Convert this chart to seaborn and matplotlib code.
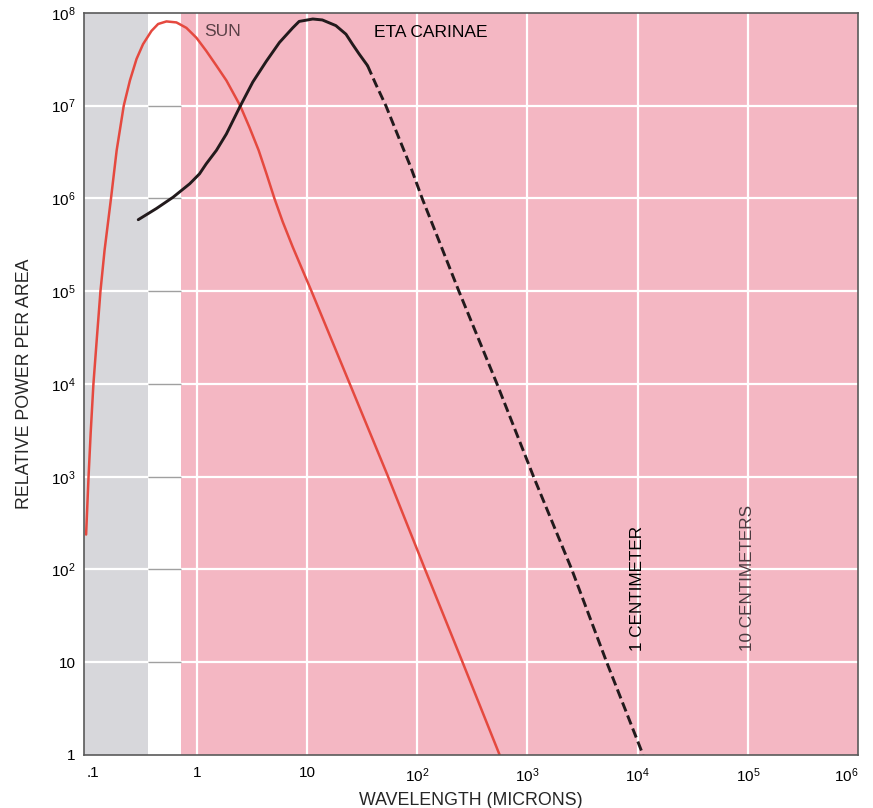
import matplotlib
matplotlib.use("Agg")
import matplotlib.pyplot as plt
import seaborn as sns

# ==============================
# Data (wavelength in microns, relative power per area)
# ==============================
sun_wavelength = [0.0993, 0.1045, 0.1093, 0.1157, 0.124, 0.134, 0.146, 0.167, 0.188,
                  0.218, 0.248, 0.285, 0.326, 0.389, 0.447, 0.532, 0.655, 0.807,
                  0.994, 1.22, 1.51, 1.86, 2.48, 3.01, 3.65, 4.3, 5.07, 6.03, 7.43,
                  11.0, 24.5, 54.5, 118, 258, 560]
sun_power = [238, 1e3, 3e3, 1e4, 3e4, 1e5, 2.76e5, 1e6, 3.3e6,
             1e7, 1.87e7, 3.2e7, 4.6e7, 6.4e7, 7.6e7, 8.1e7, 7.9e7, 6.9e7,
             5.4e7, 3.9e7, 2.7e7, 1.87e7, 1e7, 5.85e6, 3.3e6, 1.84e6, 1e6, 5.6e5, 3.0e5,
             1e5, 1e4, 1e3, 1e2, 10, 1.0]

eta_wavelength = [0.295, 0.432, 0.61, 0.865, 1.06, 1.22, 1.51, 1.86, 2.45, 3.23,
                  4.27, 5.63, 7.43, 8.5, 11.3, 13.8, 18.3, 22.6, 25.9, 29.8, 35.5]
eta_power = [5.9e5, 7.8e5, 1.03e6, 1.44e6, 1.84e6, 2.36e6, 3.3e6, 4.96e6, 9.6e6, 1.8e7,
             3.0e7, 4.8e7, 6.9e7, 8.1e7, 8.6e7, 8.4e7, 7.3e7, 5.9e7, 4.6e7, 3.6e7, 2.7e7]

# extrapolated (dashed) part of the Eta Carinae curve
eta_ext_wavelength = [35.5, 42.1, 52.0, 67.7, 87.5, 111, 145, 239, 530, 1137, 2525,
                      5236, 11200]
eta_ext_power = [2.7e7, 1.71e7, 1e7, 4.6e6, 2.17e6, 1e6, 4.5e5, 1e5, 1e4, 1e3, 1e2,
                 10, 1.0]

x_ticks = [0.1, 1, 10, 1e2, 1e3, 1e4, 1e5, 1e6]
x_tick_labels = [".1", "1", "10", r"$\mathregular{10^2}$", r"$\mathregular{10^3}$",
                 r"$\mathregular{10^4}$", r"$\mathregular{10^5}$", r"$\mathregular{10^6}$"]
y_ticks = [1, 10, 1e2, 1e3, 1e4, 1e5, 1e6, 1e7, 1e8]
y_tick_labels = ["1", "10", r"$\mathregular{10^2}$", r"$\mathregular{10^3}$",
                 r"$\mathregular{10^4}$", r"$\mathregular{10^5}$", r"$\mathregular{10^6}$",
                 r"$\mathregular{10^7}$", r"$\mathregular{10^8}$"]

# ultraviolet | visible | infrared
visible_band = [0.36, 0.72]

# ==============================
# Style
# ==============================
sns.set_theme(style="white")
plt.rcParams["font.family"] = ["Liberation Sans", "DejaVu Sans"]
plt.rcParams["mathtext.fontset"] = "custom"
plt.rcParams["mathtext.rm"] = "Liberation Sans"
plt.rcParams["mathtext.it"] = "Liberation Sans:italic"
plt.rcParams["mathtext.bf"] = "Liberation Sans:bold"

pink = "#f4b7c3"
grey = "#d7d7db"
red = "#e5493f"
dark = "#221a1c"

fig, ax = plt.subplots(figsize=(8.73, 8.08), dpi=100)
fig.subplots_adjust(left=0.0962, right=0.983, bottom=0.0656, top=0.984)

ax.set_xscale("log")
ax.set_yscale("log")
ax.set_xlim(0.095, 1e6)
ax.set_ylim(1, 1e8)

# background bands
ax.set_facecolor(pink)
ax.axvspan(0.095, visible_band[0], color=grey, lw=0, zorder=0)
ax.axvspan(visible_band[0], visible_band[1], color="white", lw=0, zorder=0)

# grid
for xv in x_ticks[1:-1]:
    ax.axvline(xv, color="white", lw=1.6, zorder=0.5)
for yv in y_ticks[1:-1]:
    ax.axhline(yv, color="white", lw=1.6, zorder=0.5)
ax.hlines(y_ticks[1:-1], visible_band[0], visible_band[1], color="#a0a0a0", lw=1.0, zorder=0.6)

# curves
sns.lineplot(x=sun_wavelength, y=sun_power, color=red, lw=1.8, sort=False,
             estimator=None, ax=ax)
sns.lineplot(x=eta_wavelength, y=eta_power, color=dark, lw=2.1, sort=False,
             estimator=None, ax=ax)
sns.lineplot(x=eta_ext_wavelength, y=eta_ext_power, color=dark, lw=2.1, sort=False,
             estimator=None, linestyle=(0, (3.3, 1.5)), ax=ax)

# labels on the chart
ax.text(1.18, 6.3e7, "SUN", fontsize=12.5, color="#5a4046", ha="left", va="center")
ax.text(40.7, 6.2e7, "ETA CARINAE", fontsize=12.5, color="black", ha="left", va="center")
ax.text(1e4, 13.1, "1 CENTIMETER", fontsize=12.3, color="black", rotation=90,
        ha="center", va="bottom")
ax.text(1e5, 13.1, "10 CENTIMETERS", fontsize=12.3, color="#4a3a3f", rotation=90,
        ha="center", va="bottom")

# ticks
ax.set_xticks(x_ticks)
ax.set_xticklabels(x_tick_labels)
ax.set_yticks(y_ticks)
ax.set_yticklabels(y_tick_labels)
ax.minorticks_off()
ax.tick_params(axis="both", length=0, labelsize=11, colors="black")
ax.tick_params(axis="x", pad=8)
ax.tick_params(axis="y", pad=6)
xlabels = ax.get_xticklabels()
xlabels[0].set_ha("left")
xlabels[-1].set_ha("right")

ax.set_xlabel("WAVELENGTH (MICRONS)", fontsize=12.8, labelpad=5)
ax.set_ylabel("RELATIVE POWER PER AREA", fontsize=12.8, labelpad=13)

for side in ["left", "right", "top", "bottom"]:
    ax.spines[side].set_visible(True)
    ax.spines[side].set_color("#5a5a5a")
    ax.spines[side].set_linewidth(1.2)

plt.savefig("out.png", dpi=100)
plt.close()
